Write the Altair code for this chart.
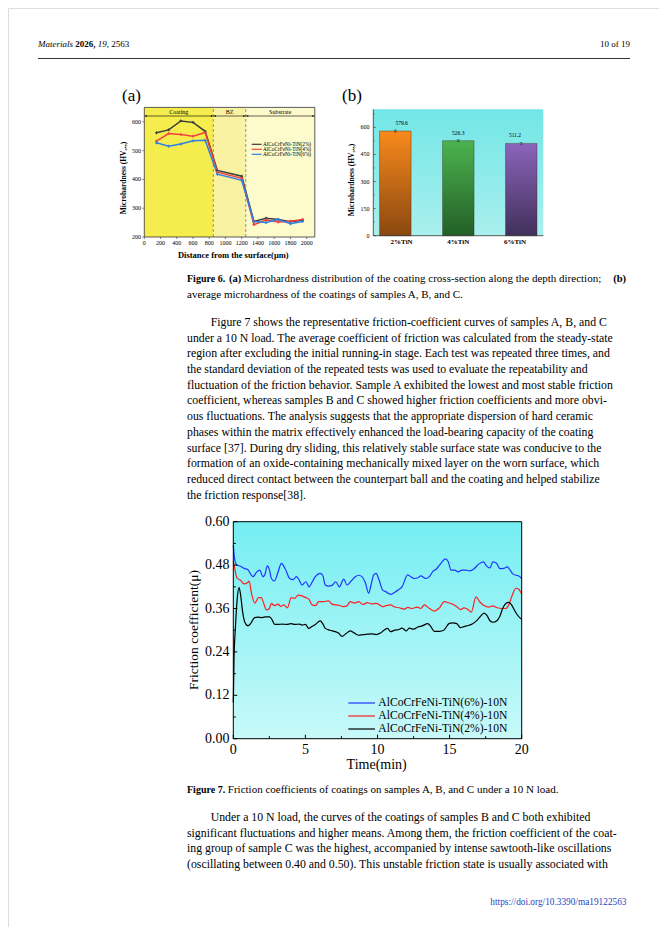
import altair as alt
import pandas as pd

# ------------------------------------------------------------------ data
# Figure 6(a): microhardness vs depth
depth_um = [150, 300, 450, 600, 750, 900, 1200, 1350, 1500, 1650, 1800, 1950]
hv_tin2 = [562, 572, 603, 598, 567, 431, 411, 254, 265, 261, 253, 258]
hv_tin4 = [533, 559, 556, 550, 563, 425, 404, 243, 259, 252, 255, 261]
hv_tin6 = [527, 515, 523, 534, 536, 418, 397, 254, 250, 261, 246, 254]
a_series = ["AlCoCrFeNi-TiN(2%)", "AlCoCrFeNi-TiN(4%)", "AlCoCrFeNi-TiN(6%)"]
zones = ["Coating", "BZ", "Substrate"]
zone_edges = [0, 850, 1250, 2100]
a_xticks = [0, 200, 400, 600, 800, 1000, 1200, 1400, 1600, 1800, 2000]
a_yticks = [200, 300, 400, 500, 600]

# Figure 6(b): average microhardness
bar_samples = ["2%TiN", "4%TiN", "6%TiN"]
bar_means = [579.6, 526.3, 511.2]
bar_err = [6, 5, 5]
b_yticks = [0, 150, 300, 450, 600]
b_yminor = [75, 225, 375, 525, 675]

# Figure 7: friction coefficient vs time
t_6 = [0, 0.1, 0.25, 0.5, 0.75, 1.0, 1.2, 1.37, 1.6, 1.83, 2.06, 2.2, 2.36, 2.5, 2.64, 2.85, 3.1, 3.33, 3.6, 3.91,
       4.15, 4.37, 4.55, 4.76, 5.04, 5.25, 5.45, 5.69, 6.03, 6.2, 6.38, 6.6, 6.85, 7.1, 7.36, 7.66, 7.89, 8.15, 8.46,
       8.7, 8.92, 9.15, 9.39, 9.55, 9.74, 9.9, 10.1, 10.36, 10.6, 10.94, 11.2, 11.45, 11.7, 12.09, 12.3, 12.55, 12.8,
       13.0, 13.35, 13.6, 13.83, 14.1, 14.4, 14.7, 14.9, 15.1, 15.35, 15.6, 15.85, 16.1, 16.4, 16.7, 17.0, 17.34,
       17.55, 17.8, 18.0, 18.25, 18.5, 18.75, 19.0, 19.2, 19.4, 19.6, 19.8, 20.0]
mu_6 = [0.535, 0.495, 0.480, 0.477, 0.471, 0.468, 0.455, 0.448, 0.460, 0.466, 0.448, 0.455, 0.478, 0.468, 0.443,
        0.436, 0.460, 0.485, 0.470, 0.443, 0.440, 0.448, 0.440, 0.425, 0.434, 0.420, 0.432, 0.448, 0.457, 0.452,
        0.425, 0.422, 0.424, 0.434, 0.420, 0.441, 0.425, 0.435, 0.448, 0.452, 0.448, 0.432, 0.402, 0.425, 0.453,
        0.457, 0.440, 0.411, 0.406, 0.399, 0.405, 0.412, 0.420, 0.453, 0.448, 0.443, 0.445, 0.450, 0.443, 0.448,
        0.462, 0.470, 0.485, 0.497, 0.490, 0.466, 0.466, 0.461, 0.466, 0.466, 0.464, 0.470, 0.482, 0.489, 0.478,
        0.472, 0.489, 0.485, 0.470, 0.471, 0.475, 0.466, 0.455, 0.452, 0.450, 0.443]
t_4 = [0, 0.1, 0.25, 0.5, 0.75, 1.0, 1.1, 1.25, 1.5, 1.75, 1.94, 2.1, 2.29, 2.5, 2.64, 2.85, 3.1, 3.3, 3.5, 3.75,
       4.02, 4.25, 4.5, 4.76, 5.04, 5.25, 5.46, 5.7, 5.92, 6.25, 6.6, 6.85, 7.07, 7.35, 7.64, 7.9, 8.11, 8.4, 8.7,
       9.0, 9.3, 9.6, 9.9, 10.15, 10.36, 10.6, 10.9, 11.2, 11.5, 11.86, 12.1, 12.4, 12.75, 13.0, 13.25, 13.6, 13.94,
       14.3, 14.63, 14.9, 15.2, 15.5, 15.75, 16.0, 16.25, 16.5, 16.83, 17.1, 17.4, 17.7, 18.0, 18.3, 18.6, 18.9,
       19.1, 19.3, 19.6, 19.8, 20.0]
mu_4 = [0.490, 0.470, 0.445, 0.438, 0.428, 0.432, 0.436, 0.404, 0.375, 0.390, 0.390, 0.375, 0.356, 0.360, 0.374,
        0.368, 0.372, 0.366, 0.370, 0.362, 0.390, 0.388, 0.397, 0.395, 0.390, 0.385, 0.370, 0.368, 0.379, 0.379,
        0.381, 0.372, 0.370, 0.369, 0.365, 0.368, 0.379, 0.375, 0.379, 0.371, 0.376, 0.373, 0.374, 0.370, 0.365,
        0.368, 0.370, 0.364, 0.362, 0.358, 0.363, 0.360, 0.364, 0.360, 0.370, 0.360, 0.353, 0.362, 0.379, 0.376,
        0.372, 0.365, 0.357, 0.362, 0.358, 0.350, 0.392, 0.378, 0.368, 0.364, 0.367, 0.362, 0.360, 0.360, 0.370,
        0.392, 0.416, 0.413, 0.400]
t_2 = [0, 0.05, 0.15, 0.28, 0.4, 0.5, 0.65, 0.8, 1.02, 1.2, 1.48, 1.7, 2.0, 2.25, 2.52, 2.7, 2.87, 3.1, 3.4, 3.7,
       4.0, 4.3, 4.6, 4.76, 5.0, 5.23, 5.45, 5.69, 6.03, 6.2, 6.38, 6.7, 7.07, 7.3, 7.54, 7.8, 8.11, 8.4, 8.69, 9.0,
       9.3, 9.6, 9.9, 10.2, 10.45, 10.7, 10.9, 11.2, 11.5, 11.7, 12.0, 12.2, 12.5, 12.8, 13.1, 13.48, 13.7, 13.94,
       14.3, 14.6, 14.98, 15.2, 15.5, 15.75, 16.0, 16.3, 16.6, 16.9, 17.2, 17.4, 17.6, 17.8, 18.0, 18.3, 18.5, 18.7,
       18.9, 19.1, 19.3, 19.5, 19.7, 20.0]
mu_2 = [0.10, 0.22, 0.31, 0.39, 0.418, 0.400, 0.350, 0.322, 0.312, 0.318, 0.335, 0.336, 0.335, 0.337, 0.337,
        0.328, 0.316, 0.316, 0.317, 0.316, 0.318, 0.316, 0.317, 0.314, 0.316, 0.305, 0.310, 0.316, 0.326, 0.318,
        0.305, 0.300, 0.296, 0.292, 0.283, 0.290, 0.298, 0.292, 0.286, 0.288, 0.289, 0.290, 0.288, 0.292, 0.300,
        0.305, 0.296, 0.300, 0.302, 0.306, 0.298, 0.306, 0.303, 0.309, 0.312, 0.318, 0.310, 0.297, 0.297, 0.300,
        0.319, 0.320, 0.318, 0.307, 0.310, 0.313, 0.318, 0.327, 0.341, 0.347, 0.340, 0.326, 0.322, 0.327, 0.340,
        0.362, 0.374, 0.377, 0.370, 0.355, 0.342, 0.330]
f7_series = ["AlCoCrFeNi-TiN(6%)-10N", "AlCoCrFeNi-TiN(4%)-10N", "AlCoCrFeNi-TiN(2%)-10N"]
f7_xticks = [0, 5, 10, 15, 20]
f7_xminor = [2.5, 7.5, 12.5, 17.5]
f7_yticks = [0.0, 0.12, 0.24, 0.36, 0.48, 0.60]
f7_yminor = [0.06, 0.18, 0.30, 0.42, 0.54]

# Text of the page
header_journal = "Materials"
header_year = "2026,"
header_vol = "19"
header_rest = ", 2563"
header_page = "10 of 19"
cap6_lab = "Figure 6."
cap6_a = "(a)"
cap6_text = "Microhardness distribution of the coating cross-section along the depth direction;"
cap6_b = "(b)"
cap6_line2 = "average microhardness of the coatings of samples A, B, and C."
para1 = [
    "Figure 7 shows the representative friction-coefficient curves of samples A, B, and C",
    "under a 10 N load. The average coefficient of friction was calculated from the steady-state",
    "region after excluding the initial running-in stage. Each test was repeated three times, and",
    "the standard deviation of the repeated tests was used to evaluate the repeatability and",
    "fluctuation of the friction behavior. Sample A exhibited the lowest and most stable friction",
    "coefficient, whereas samples B and C showed higher friction coefficients and more obvi-",
    "ous fluctuations. The analysis suggests that the appropriate dispersion of hard ceramic",
    "phases within the matrix effectively enhanced the load-bearing capacity of the coating",
    "surface [37]. During dry sliding, this relatively stable surface state was conducive to the",
    "formation of an oxide-containing mechanically mixed layer on the worn surface, which",
    "reduced direct contact between the counterpart ball and the coating and helped stabilize",
    "the friction response[38].",
]
cap7_lab = "Figure 7."
cap7_text = "Friction coefficients of coatings on samples A, B, and C under a 10 N load."
para2 = [
    "Under a 10 N load, the curves of the coatings of samples B and C both exhibited",
    "significant fluctuations and higher means. Among them, the friction coefficient of the coat-",
    "ing group of sample C was the highest, accompanied by intense sawtooth-like oscillations",
    "(oscillating between 0.40 and 0.50). This unstable friction state is usually associated with",
]
footer = "https://doi.org/10.3390/ma19122563"

# ------------------------------------------------------------------ helpers
OX, OY = 8, 8
SERIF = "Liberation Serif"
one = pd.DataFrame({"k": [0]})
BODY = 11.8
CAP = 11


def P(x):
    return x - OX


def Q(y):
    return y - OY


def txt(s, x, y, size, weight="normal", style="normal", align="left", color="black",
        angle=0, baseline="alphabetic", lineHeight=None):
    kw = dict(text=s, fontSize=size, fontWeight=weight, fontStyle=style, align=align,
              color=color, baseline=baseline, font=SERIF)
    if angle:
        kw["angle"] = angle
    if lineHeight:
        kw["lineBreak"] = "\n"
        kw["lineHeight"] = lineHeight
    return alt.Chart(one).mark_text(**kw).encode(x=alt.value(P(x)), y=alt.value(Q(y)))


def vgrad(top, bottom):
    return alt.LinearGradient(gradient="linear",
                              stops=[alt.GradientStop(color=top, offset=0),
                                     alt.GradientStop(color=bottom, offset=1)],
                              x1=0, x2=0, y1=0, y2=1)


layers = []

# ------------------------------------------------------------------ header
layers += [
    txt(header_journal, 38, 47, 9, style="italic"),
    txt(header_year, 75.3, 47, 9, weight="bold"),
    txt(header_vol, 97.8, 47, 9, style="italic"),
    txt(header_rest, 106.8, 47, 9),
    txt(header_page, 630, 47, 9, align="right"),
    alt.Chart(one).mark_rule(color="black", strokeWidth=0.8).encode(
        x=alt.value(P(38)), x2=alt.value(P(630)), y=alt.value(Q(58.5))),
]

# ------------------------------------------------------------------ Figure 6(a)
AL, AR, AB, AT = 144.3, 314.8, 237.0, 107.4
XA = alt.Scale(domain=[0, 2100], range=[P(AL), P(AR)], nice=False, zero=False)
YA = alt.Scale(domain=[200, 650], range=[Q(AB), Q(AT)], nice=False, zero=False)
zone_df = pd.DataFrame({"zone": zones, "x0": zone_edges[:-1], "x1": zone_edges[1:]})
zone_df["mid"] = (zone_df["x0"] + zone_df["x1"]) / 2
zone_df["y0"] = 200
zone_df["y1"] = 650
layers.append(alt.Chart(zone_df).mark_rect().encode(
    x=alt.X("x0:Q", scale=XA, axis=None), x2="x1:Q",
    y=alt.Y("y0:Q", scale=YA, axis=None), y2="y1:Q",
    color=alt.Color("zone:N", scale=alt.Scale(domain=zones, range=["#f5ec4e", "#f9f2a2", "#fdfacb"]),
                    legend=None)))
# dashed boundaries
layers.append(alt.Chart(pd.DataFrame({"b": zone_edges[1:-1], "y0": [200, 200], "y1": [650, 650]})).mark_rule(
    color="#777777", strokeDash=[3, 2], strokeWidth=0.8).encode(
    x=alt.X("b:Q", scale=XA, axis=None), y=alt.Y("y0:Q", scale=YA, axis=None), y2="y1:Q"))
# zone labels and arrows
layers.append(alt.Chart(zone_df).mark_text(font=SERIF, fontSize=6, baseline="middle").encode(
    x=alt.X("mid:Q", scale=XA, axis=None), y=alt.value(Q(111.8)), text="zone:N"))
layers.append(alt.Chart(zone_df).mark_rule(color="black", strokeWidth=0.6).encode(
    x=alt.X("x0:Q", scale=XA, axis=None), x2="x1:Q", y=alt.value(Q(116))))
layers.append(alt.Chart(zone_df).mark_point(shape="triangle-left", size=5, filled=True, color="black",
                                            opacity=1).encode(
    x=alt.X("x0:Q", scale=XA, axis=None), y=alt.value(Q(116)), xOffset=alt.value(1.5)))
layers.append(alt.Chart(zone_df).mark_point(shape="triangle-right", size=5, filled=True, color="black",
                                            opacity=1).encode(
    x=alt.X("x1:Q", scale=XA, axis=None), y=alt.value(Q(116)), xOffset=alt.value(-1.5)))
# lines
a_rows = []
for name, vals in zip(a_series, [hv_tin2, hv_tin4, hv_tin6]):
    for d, v in zip(depth_um, vals):
        a_rows.append({"s": name, "d": d, "hv": v})
a_df = pd.DataFrame(a_rows)
a_palette = ["#3c3c3c", "#f0433f", "#2f80e4"]
a_cols = alt.Scale(domain=a_series, range=a_palette)
layers.append(alt.Chart(a_df).mark_line(strokeWidth=1.5).encode(
    x=alt.X("d:Q", scale=XA, axis=None), y=alt.Y("hv:Q", scale=YA, axis=None),
    color=alt.Color("s:N", scale=a_cols, legend=None), detail="s:N"))
layers.append(alt.Chart(a_df).mark_point(shape="cross", size=8, filled=True, opacity=1).encode(
    x=alt.X("d:Q", scale=XA, axis=None), y=alt.Y("hv:Q", scale=YA, axis=None),
    color=alt.Color("s:N", scale=a_cols, legend=None)))
# frame
layers.append(alt.Chart(pd.DataFrame({"x0": [0], "x1": [2100], "y0": [200], "y1": [650]})).mark_rect(
    fill="transparent", stroke="#333333", strokeWidth=0.8).encode(
    x=alt.X("x0:Q", scale=XA, axis=None), x2="x1:Q", y=alt.Y("y0:Q", scale=YA, axis=None), y2="y1:Q"))
# ticks + labels
layers.append(alt.Chart(pd.DataFrame({"v": a_xticks})).mark_rule(color="#333333", strokeWidth=0.6).encode(
    x=alt.X("v:Q", scale=XA, axis=None), y=alt.value(Q(AB)), y2=alt.value(Q(AB) + 2)))
layers.append(alt.Chart(pd.DataFrame({"v": a_xticks})).mark_text(font=SERIF, fontSize=6, baseline="middle").encode(
    x=alt.X("v:Q", scale=XA, axis=None), y=alt.value(Q(242.5)), text="v:Q"))
layers.append(alt.Chart(pd.DataFrame({"v": a_yticks})).mark_rule(color="#333333", strokeWidth=0.6).encode(
    y=alt.Y("v:Q", scale=YA, axis=None), x=alt.value(P(AL) - 2), x2=alt.value(P(AL))))
layers.append(alt.Chart(pd.DataFrame({"v": a_yticks})).mark_text(font=SERIF, fontSize=6, baseline="middle",
                                                                 align="right").encode(
    y=alt.Y("v:Q", scale=YA, axis=None), x=alt.value(P(141)), text="v:Q"))
# legend
for i, (name, col) in enumerate(zip(a_series, a_palette)):
    yy = 144.3 + i * 5
    layers.append(alt.Chart(one).mark_rule(color=col, strokeWidth=1.2).encode(
        x=alt.value(P(251.7)), x2=alt.value(P(261.7)), y=alt.value(Q(yy))))
    layers.append(txt(name, 263, yy, 5.3, baseline="middle"))
# titles
layers += [
    txt("(a)", 122, 101, 17),
    txt("Microhardness (HV\u2080.\u2085)", 123.5, 178, 7.5, weight="bold", angle=270, align="center",
        baseline="middle"),
    txt("Distance from the surface(\u03bcm)", 233.3, 255, 8.5, weight="bold", align="center", baseline="middle"),
]

# ------------------------------------------------------------------ Figure 6(b)
BL, BR, BB, BT = 373.3, 543.3, 235.7, 109.3
XB = alt.Scale(domain=bar_samples, range=[P(BL), P(BR)], paddingInner=0.5, paddingOuter=0.1)
YB = alt.Scale(domain=[0, 700], range=[Q(BB), Q(BT)], nice=False, zero=False)
layers.append(alt.Chart(pd.DataFrame({"y0": [0], "y1": [700]})).mark_rect(
    color=vgrad("#72e6e6", "#a9f0ee")).encode(
    x=alt.value(P(BL)), x2=alt.value(P(BR)), y=alt.Y("y0:Q", scale=YB, axis=None), y2="y1:Q"))
b_df = pd.DataFrame({"s": bar_samples, "m": bar_means, "e": bar_err})
b_df["lo"] = b_df["m"] - b_df["e"]
b_df["hi"] = b_df["m"] + b_df["e"]
bar_grads = [("#f98a1c", "#8a4810"), ("#4cb34f", "#235f27"), ("#8c64bb", "#41305a")]
for s, (c1, c2) in zip(bar_samples, bar_grads):
    layers.append(alt.Chart(b_df).transform_filter(alt.datum.s == s).mark_bar(
        color=vgrad(c1, c2), stroke="#3a2a1a", strokeWidth=0.4).encode(
        x=alt.X("s:N", scale=XB, axis=None), y=alt.Y("m:Q", scale=YB, axis=None)))
layers.append(alt.Chart(b_df).mark_rule(color="#222222", strokeWidth=0.6).encode(
    x=alt.X("s:N", scale=XB, axis=None), y=alt.Y("lo:Q", scale=YB, axis=None), y2="hi:Q"))
layers.append(alt.Chart(b_df).mark_tick(color="#222222", thickness=0.6, size=3, orient="horizontal").encode(
    x=alt.X("s:N", scale=XB, axis=None), y=alt.Y("hi:Q", scale=YB, axis=None)))
layers.append(alt.Chart(b_df).mark_tick(color="#222222", thickness=0.6, size=3, orient="horizontal").encode(
    x=alt.X("s:N", scale=XB, axis=None), y=alt.Y("lo:Q", scale=YB, axis=None)))
layers.append(alt.Chart(b_df).mark_text(font=SERIF, fontSize=5.5, baseline="bottom", dy=-5).encode(
    x=alt.X("s:N", scale=XB, axis=None), y=alt.Y("m:Q", scale=YB, axis=None), text=alt.Text("m:Q", format=".1f")))
# axes of (b)
layers.append(alt.Chart(one).mark_rule(color="#333333", strokeWidth=0.8).encode(
    x=alt.value(P(BL)), y=alt.value(Q(BT)), y2=alt.value(Q(BB))))
layers.append(alt.Chart(one).mark_rule(color="#333333", strokeWidth=0.8).encode(
    x=alt.value(P(BL)), x2=alt.value(P(BR)), y=alt.value(Q(BB))))
layers.append(alt.Chart(pd.DataFrame({"v": b_yticks})).mark_rule(color="#333333", strokeWidth=0.6).encode(
    y=alt.Y("v:Q", scale=YB, axis=None), x=alt.value(P(BL)), x2=alt.value(P(BL) + 2.5)))
layers.append(alt.Chart(pd.DataFrame({"v": b_yminor})).mark_rule(color="#333333", strokeWidth=0.5).encode(
    y=alt.Y("v:Q", scale=YB, axis=None), x=alt.value(P(BL)), x2=alt.value(P(BL) + 1.5)))
layers.append(alt.Chart(pd.DataFrame({"v": b_yticks})).mark_text(font=SERIF, fontSize=6, baseline="middle",
                                                                 align="right").encode(
    y=alt.Y("v:Q", scale=YB, axis=None), x=alt.value(P(369.5)), text="v:Q"))
layers.append(alt.Chart(b_df).mark_text(font=SERIF, fontSize=7, fontWeight="bold", baseline="middle").encode(
    x=alt.X("s:N", scale=XB, axis=None), y=alt.value(Q(242)), text="s:N"))
layers += [
    txt("(b)", 342, 101, 17),
    txt("Microhardness (HV\u2080.\u2085)", 351.7, 180, 7.5, weight="bold", angle=270, align="center",
        baseline="middle"),
]

# ------------------------------------------------------------------ captions / paragraphs
layers += [
    txt(cap6_lab, 187, 282, 10, weight="bold"),
    txt(cap6_a, 229, 282, 10.5, weight="bold"),
    txt(cap6_text, 243.5, 282, CAP),
    txt(cap6_b, 626, 282, 10.5, weight="bold", align="right"),
    txt(cap6_line2, 187, 298, CAP),
    txt(para1[0], 210.7, 326, BODY),
    txt("\n".join(para1[1:]), 187, 341.7, BODY, lineHeight=15.7),
    txt(cap7_lab, 187, 793, 10, weight="bold"),
    txt(cap7_text, 227.8, 793, CAP),
    txt(para2[0], 210.7, 821.2, BODY),
    txt("\n".join(para2[1:]), 187, 836.8, BODY, lineHeight=15.6),
    txt(footer, 626.5, 905, 9.3, align="right", color="#1f3fbf"),
]

# ------------------------------------------------------------------ Figure 7
FL, FR, FB, FT = 233.3, 521.7, 738.7, 521.7
X7 = alt.Scale(domain=[0, 20], range=[P(FL), P(FR)], nice=False, zero=False)
Y7 = alt.Scale(domain=[0, 0.6], range=[Q(FB), Q(FT)], nice=False, zero=False)
box7 = pd.DataFrame({"x0": [0], "x1": [20], "y0": [0.0], "y1": [0.6]})
layers.append(alt.Chart(box7).mark_rect(color=vgrad("#74eef2", "#c8f9f9")).encode(
    x=alt.X("x0:Q", scale=X7, axis=None), x2="x1:Q", y=alt.Y("y0:Q", scale=Y7, axis=None), y2="y1:Q"))
f_rows = []
for name, ts, ms in zip(f7_series, [t_6, t_4, t_2], [mu_6, mu_4, mu_2]):
    for t, m in zip(ts, ms):
        f_rows.append({"s": name, "t": t, "mu": m})
f_df = pd.DataFrame(f_rows)
f_cols = ["#1f35ff", "#ff1f1f", "#000000"]
layers.append(alt.Chart(f_df).mark_line(strokeWidth=1.2, interpolate="monotone").encode(
    x=alt.X("t:Q", scale=X7, axis=None), y=alt.Y("mu:Q", scale=Y7, axis=None),
    color=alt.Color("s:N", scale=alt.Scale(domain=f7_series, range=f_cols), legend=None), detail="s:N"))
layers.append(alt.Chart(box7).mark_rect(fill="transparent", stroke="black", strokeWidth=1).encode(
    x=alt.X("x0:Q", scale=X7, axis=None), x2="x1:Q", y=alt.Y("y0:Q", scale=Y7, axis=None), y2="y1:Q"))
layers.append(alt.Chart(pd.DataFrame({"v": f7_yticks})).mark_rule(color="black", strokeWidth=1).encode(
    y=alt.Y("v:Q", scale=Y7, axis=None), x=alt.value(P(FL)), x2=alt.value(P(FL) + 4)))
layers.append(alt.Chart(pd.DataFrame({"v": f7_yminor})).mark_rule(color="black", strokeWidth=1).encode(
    y=alt.Y("v:Q", scale=Y7, axis=None), x=alt.value(P(FL)), x2=alt.value(P(FL) + 2.5)))
layers.append(alt.Chart(pd.DataFrame({"v": f7_xticks})).mark_rule(color="black", strokeWidth=1).encode(
    x=alt.X("v:Q", scale=X7, axis=None), y=alt.value(Q(FB)), y2=alt.value(Q(FB) - 4)))
layers.append(alt.Chart(pd.DataFrame({"v": f7_xminor})).mark_rule(color="black", strokeWidth=1).encode(
    x=alt.X("v:Q", scale=X7, axis=None), y=alt.value(Q(FB)), y2=alt.value(Q(FB) - 2.5)))
layers.append(alt.Chart(pd.DataFrame({"v": f7_yticks})).mark_text(font=SERIF, fontSize=14, baseline="middle",
                                                                  align="right").encode(
    y=alt.Y("v:Q", scale=Y7, axis=None), x=alt.value(P(229.5)), text=alt.Text("v:Q", format=".2f")))
layers.append(alt.Chart(pd.DataFrame({"v": f7_xticks})).mark_text(font=SERIF, fontSize=14,
                                                                  baseline="middle").encode(
    x=alt.X("v:Q", scale=X7, axis=None), y=alt.value(Q(749.5)), text="v:Q"))
for name, col, yy in zip(f7_series, f_cols, [703, 716, 729]):
    layers.append(alt.Chart(one).mark_rule(color=col, strokeWidth=1.2).encode(
        x=alt.value(P(348.3)), x2=alt.value(P(375)), y=alt.value(Q(yy))))
    layers.append(txt(name, 378.3, yy, 11.6, baseline="middle"))
layers += [
    txt("Friction coefficient(\u03bc)", 193.5, 630, 13.5, angle=270, align="center", baseline="middle"),
    txt("Time(min)", 376.7, 765, 14, align="center", baseline="middle"),
]

chart = alt.layer(*layers).resolve_scale(
    x="independent", y="independent", color="independent"
).properties(
    width=651, height=919, padding=0, autosize=alt.AutoSizeParams(type="none")
).configure_view(strokeWidth=0).configure(background="white")

chart.save("out.html", embed_options={"renderer": "svg", "actions": False})
